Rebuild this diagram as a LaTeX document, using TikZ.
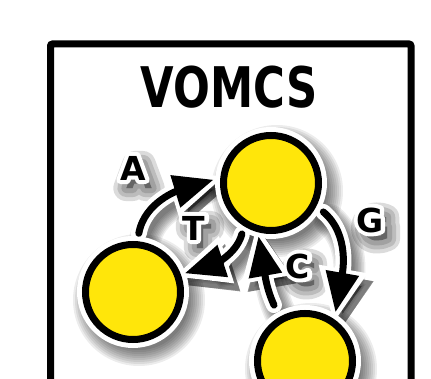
\documentclass[tikz,border=0pt]{standalone}
\usepackage{fontspec}
\setmainfont{DejaVu Sans}
\newfontfamily\titlefont{DejaVu Sans Condensed}
\usetikzlibrary{arrows.meta}
\pgfdeclarelayer{bglayer}
\pgfdeclarelayer{shadowlayer}
\pgfdeclarelayer{outlinelayer}
\pgfsetlayers{bglayer,shadowlayer,outlinelayer,main}
\definecolor{dotyellow}{RGB}{255,230,10}
\newcommand\strokedtext[2]{\special{pdf:literal direct 2 Tr #1 w 1 j 1 J}#2\special{pdf:literal direct 0 Tr}}
\tikzset{
  state/.style={circle, draw=black, fill=dotyellow, line width=7pt,
    minimum size=95pt, inner sep=0pt, outer sep=3.5pt},
  conn/.style={black, line width=7pt, line cap=round,
    -{Triangle[length=40pt,width=32pt]}},
  connwhite/.style={white, line width=16pt, line cap=round,
    -{Triangle[length=56pt,width=45pt]}},
  lab/.style={font=\bfseries\fontsize{33}{33}\selectfont, inner sep=0pt},
  labshadow/.style={lab, black, opacity=0.14},
  titletext/.style={font=\titlefont\bfseries\fontsize{56}{56}\selectfont, inner sep=0pt},
  frameline/.style={line width=7pt, rounded corners=2pt},
  shade/.style={black, opacity=0.075},
}
\begin{document}
\begin{tikzpicture}[x=1pt,y=1pt]
\useasboundingbox (0,0) rectangle (431,-379);
\begin{pgfonlayer}{bglayer}
\fill[white] (0,0) rectangle (431,-379);
\end{pgfonlayer}

\draw[frameline] (50.5,-44) rectangle (411,-440);
\node[titletext] (title) at (229,-87) {\scalebox{0.86}[1]{VOMCS}};

\node[state] (top) at (271,-183) {};
\node[state] (left) at (133,-292) {};
\node[state] (bot) at (305,-361) {};

\node[lab] (lA) at (133,-168) {A};
\node[lab] (lT) at (194,-228) {T};
\node[lab] (lC) at (298,-266) {C};
\node[lab] (lG) at (370,-220) {G};

% arrows (black)
\draw[conn, shorten <=8pt, shorten >=7pt] (left.85) to[out=80,in=197] (top.174);
\draw[conn, shorten <=8pt, shorten >=4pt] (top.238) to[out=255,in=18] (left.20);
\draw[conn, shorten <=13pt, shorten >=4pt] (bot.120) to[out=115,in=-80] (top.255);
\draw[conn, shorten <=9pt, shorten >=7pt] (top.333) to[out=-40,in=80] (bot.55);

% white outlines
\begin{pgfonlayer}{outlinelayer}
  \foreach \n in {top,left,bot} \fill[white] (\n) circle[radius=56pt];
  \draw[connwhite, shorten <=8pt, shorten >=-5pt] (left.85) to[out=80,in=197] (top.174);
  \draw[connwhite, shorten <=8pt, shorten >=-8pt] (top.238) to[out=255,in=18] (left.20);
  \draw[connwhite, shorten <=13pt, shorten >=-8pt] (bot.120) to[out=115,in=-80] (top.255);
  \draw[connwhite, shorten <=9pt, shorten >=-5pt] (top.333) to[out=-40,in=80] (bot.55);
  \foreach \n/\t in {lA/A,lT/T,lC/C,lG/G}
    \node[lab, white] (o\n) at (\n) {\strokedtext{8}{\t}};
\end{pgfonlayer}

% shadows
\begin{pgfonlayer}{shadowlayer}
\begin{scope}[transform canvas={shift={(6pt,-8pt)}}]
  \foreach \n in {top,left,bot}
    \foreach \k in {0,...,8}
      \fill[shade] (\n) circle[radius={50pt+2pt*\k}];
  \foreach \k in {0,...,8} {
    \draw[shade, line width={8pt+3pt*\k}, line cap=round, -{Triangle[length=56pt,width=45pt]}, shorten <=8pt, shorten >=-5pt] (left.85) to[out=80,in=197] (top.174);
    \draw[shade, line width={8pt+3pt*\k}, line cap=round, -{Triangle[length=56pt,width=45pt]}, shorten <=8pt, shorten >=-8pt] (top.238) to[out=255,in=18] (left.20);
    \draw[shade, line width={8pt+3pt*\k}, line cap=round, -{Triangle[length=56pt,width=45pt]}, shorten <=13pt, shorten >=-8pt] (bot.120) to[out=115,in=-80] (top.255);
    \draw[shade, line width={8pt+3pt*\k}, line cap=round, -{Triangle[length=56pt,width=45pt]}, shorten <=9pt, shorten >=-5pt] (top.333) to[out=-40,in=80] (bot.55);
  }
  \foreach \n/\t in {lA/A,lT/T,lC/C,lG/G} {
    \node[labshadow] (sa\n) at (\n) {\strokedtext{10}{\t}};
    \node[labshadow] (sb\n) at (\n) {\strokedtext{18}{\t}};
    \node[labshadow] (sc\n) at (\n) {\strokedtext{26}{\t}};
  }
\end{scope}
\end{pgfonlayer}
\end{tikzpicture}
\end{document}
